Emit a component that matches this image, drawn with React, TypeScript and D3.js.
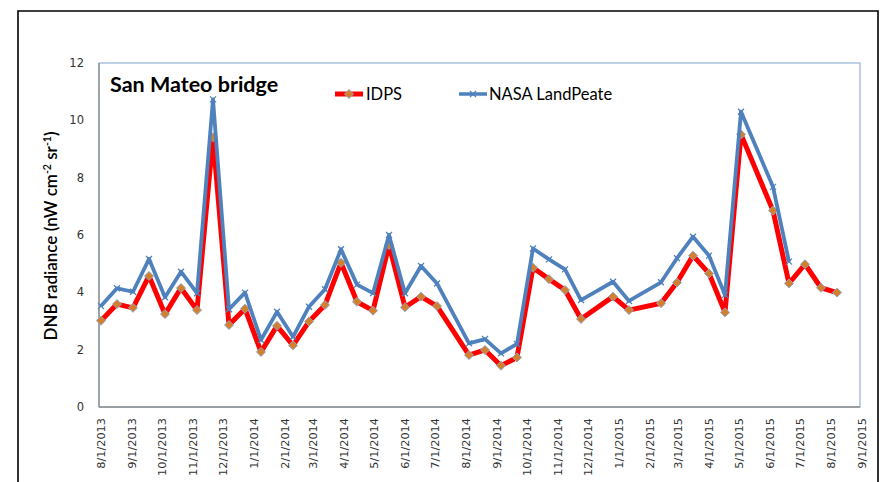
import React from "react";
import * as d3 from "d3";

const dates: string[] = [
  "2013-08-03","2013-08-19","2013-09-04","2013-09-20","2013-10-06","2013-10-22","2013-11-07","2013-11-23",
  "2013-12-09","2013-12-25","2014-01-10","2014-01-26","2014-02-11","2014-02-27","2014-03-15","2014-03-31",
  "2014-04-16","2014-05-02","2014-05-18","2014-06-03","2014-06-19","2014-07-05","2014-08-06","2014-08-22",
  "2014-09-07","2014-09-23","2014-10-09","2014-10-25","2014-11-10","2014-11-26","2014-12-28","2015-01-13",
  "2015-02-14","2015-03-02","2015-03-18","2015-04-03","2015-04-19","2015-05-05","2015-06-06","2015-06-22",
  "2015-07-08","2015-07-24","2015-08-09"
];

const idps: number[] = [
  3.01,3.59,3.46,4.57,3.24,4.15,3.38,9.41,
  2.86,3.43,1.92,2.83,2.15,2.98,3.56,5.03,
  3.67,3.36,5.65,3.48,3.85,3.52,1.81,1.99,
  1.44,1.73,4.86,4.46,4.08,3.07,3.85,3.38,
  3.62,4.34,5.28,4.66,3.30,9.51,6.85,4.31,
  4.98,4.16,3.99
];

const nasa: (number | null)[] = [
  3.52,4.14,4.02,5.16,3.83,4.72,3.97,10.73,
  3.41,3.99,2.34,3.32,2.45,3.50,4.11,5.50,
  4.27,3.97,6.00,3.97,4.92,4.31,2.22,2.37,
  1.87,2.20,5.53,5.15,4.80,3.73,4.37,3.70,
  4.35,5.19,5.94,5.28,3.91,10.30,7.68,5.07,
  null,null,null
];

const yTicks: number[] = [0, 2, 4, 6, 8, 10, 12];
const xTickDates: string[] = [
  "2013-08-01","2013-09-01","2013-10-01","2013-11-01","2013-12-01","2014-01-01","2014-02-01","2014-03-01",
  "2014-04-01","2014-05-01","2014-06-01","2014-07-01","2014-08-01","2014-09-01","2014-10-01","2014-11-01",
  "2014-12-01","2015-01-01","2015-02-01","2015-03-01","2015-04-01","2015-05-01","2015-06-01","2015-07-01",
  "2015-08-01","2015-09-01"
];

const title = "San Mateo bridge";
const seriesNames = ["IDPS", "NASA LandPeate"];

const W = 881, H = 482;
const left = 99, right = 860, top = 63, bottom = 407;

const parse = d3.utcParse("%Y-%m-%d");
const fmt = d3.utcFormat("%-m/%-d/%Y");

export default function App() {
  const x = d3.scaleUtc()
    .domain([parse(xTickDates[0])!, parse(xTickDates[xTickDates.length - 1])!])
    .range([left, right]);
  const y = d3.scaleLinear().domain([0, 12]).range([bottom, top]);

  const pts1 = dates.map((d, i) => ({ x: x(parse(d)!), y: idps[i] }));
  const pts2 = dates.map((d, i) => ({ x: x(parse(d)!), y: nasa[i] }));

  const line = d3.line<{ x: number; y: number | null }>()
    .defined(d => d.y != null)
    .x(d => d.x)
    .y(d => y(d.y as number));

  const diamond = (cx: number, cy: number, r: number) =>
    `M${cx},${cy - r}L${cx + r},${cy}L${cx},${cy + r}L${cx - r},${cy}Z`;
  const cross = (cx: number, cy: number, r: number) =>
    `M${cx - r},${cy - r}L${cx + r},${cy + r}M${cx - r},${cy + r}L${cx + r},${cy - r}`;

  const red = "#FF0000";
  const blue = "#4F81BD";
  const orange = "#D4802B";
  const markerEdge = "#8FA6C8";
  const tickFont = "'DejaVu Sans', Verdana, sans-serif";
  const textFont = "Lato, 'Open Sans', sans-serif";

  return (
    <svg width={W} height={H} style={{ position: "absolute", left: 0, top: 0, background: "#fff" }}>
      <rect x={0} y={0} width={W} height={H} fill="#fff" />
      {/* outer frame */}
      <path d={`M18,${H + 5}L18,11L878,11L878,${H + 5}`} fill="none" stroke="#000" strokeWidth={1.6} />
      {/* plot area */}
      <rect x={left} y={top} width={right - left} height={bottom - top} fill="none" stroke="#95B3D7" strokeWidth={1.2} />
      <line x1={left} y1={top} x2={left} y2={bottom} stroke="#8C8C8C" strokeWidth={1.3} />
      <line x1={left} y1={bottom} x2={right} y2={bottom} stroke="#8C8C8C" strokeWidth={1.3} />

      {/* y ticks */}
      {yTicks.map(t => (
        <text key={t} x={84} y={y(t)} dy="0.35em" textAnchor="end" fontFamily={tickFont} fontSize={11.5} fill="#333">
          {t}
        </text>
      ))}
      {/* x ticks */}
      {xTickDates.map(d => {
        const px = x(parse(d)!) + 2.5;
        return (
          <text key={d} transform={`translate(${px},${bottom + 11}) rotate(-90)`} textAnchor="end" dy="0.35em"
            fontFamily={tickFont} fontSize={11.3} fill="#333">
            {fmt(parse(d)!)}
          </text>
        );
      })}

      {/* y axis title */}
      <text transform={`translate(57,236) rotate(-90)`} textAnchor="middle" fontFamily={textFont} fontSize={17} fontWeight={600} fill="#000">
        DNB radiance (nW cm<tspan dy="-6" fontSize={10.5}>-2</tspan><tspan dy="6"> sr</tspan><tspan dy="-6" fontSize={10.5}>-1</tspan><tspan dy="6">)</tspan>
      </text>

      {/* title */}
      <text x={110} y={92} fontFamily={textFont} fontWeight="bold" fontSize={21.5} fill="#000">{title}</text>

      {/* legend */}
      <line x1={335} y1={94} x2={363} y2={94} stroke={red} strokeWidth={5} />
      <path d={diamond(349, 94, 4.5)} fill={orange} stroke={markerEdge} strokeWidth={1} />
      <text x={366} y={100} fontFamily={textFont} fontSize={16.5} fill="#000">{seriesNames[0]}</text>
      <line x1={459} y1={94} x2={487} y2={94} stroke={blue} strokeWidth={3.5} />
      <path d={cross(473, 94, 3)} fill="none" stroke={blue} strokeWidth={1.3} />
      <text x={489} y={100} fontFamily={textFont} fontSize={16.5} fill="#000">{seriesNames[1]}</text>

      {/* IDPS series */}
      <path d={line(pts1) || ""} fill="none" stroke={red} strokeWidth={5} strokeLinejoin="round" />
      {pts1.map((p, i) => (
        <path key={"d" + i} d={diamond(p.x, y(p.y as number), 4.5)} fill={orange} stroke={markerEdge} strokeWidth={1} />
      ))}

      {/* NASA series */}
      <path d={line(pts2) || ""} fill="none" stroke={blue} strokeWidth={3.8} strokeLinejoin="round" />
      {pts2.filter(p => p.y != null).map((p, i) => (
        <path key={"c" + i} d={cross(p.x, y(p.y as number), 3)} fill="none" stroke={blue} strokeWidth={1.3} />
      ))}
    </svg>
  );
}
